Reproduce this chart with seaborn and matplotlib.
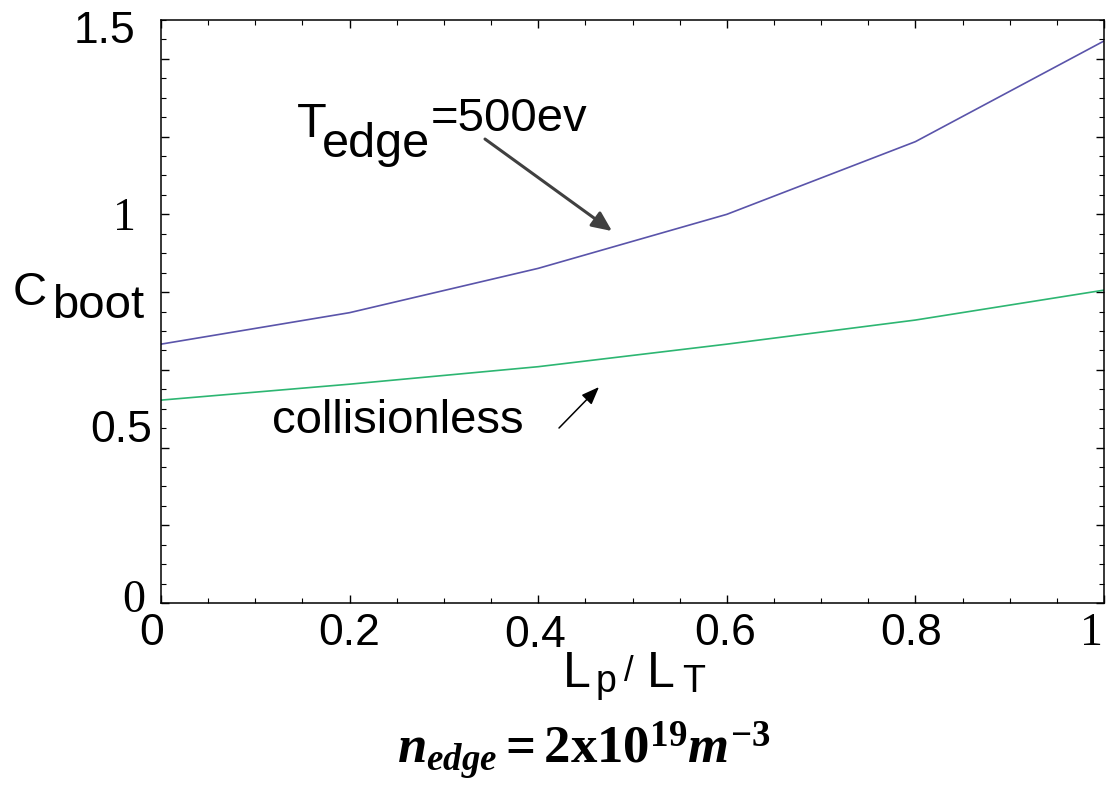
import numpy as np
import pandas as pd
import matplotlib
matplotlib.use("Agg")
import matplotlib.pyplot as plt
import seaborn as sns
from matplotlib.ticker import MultipleLocator

# ---------------- data ----------------
x_vals = [0.0, 0.2, 0.4, 0.6, 0.8, 1.0]
t500_vals = [0.666, 0.747, 0.861, 1.000, 1.187, 1.446]
collisionless_vals = [0.522, 0.563, 0.608, 0.666, 0.728, 0.805]
series_names = ["T_edge=500ev", "collisionless"]
xtick_vals = [0, 0.2, 0.4, 0.6, 0.8, 1]
xtick_labels = ["0", "0.2", "0.4", "0.6", "0.8", "1"]
ytick_vals = [0, 0.5, 1, 1.5]
ytick_labels = ["0", "0.5", "1", "1.5"]

# ---------------- style ----------------
colors = ["#5a54aa", "#2db672"]
SANS = ["Liberation Sans", "DejaVu Sans"]
SERIF = ["Liberation Serif", "DejaVu Serif"]
xtick_fonts = [SANS, SANS, SANS, SANS, SANS, SERIF]
ytick_fonts = [SERIF, SANS, SERIF, SANS]
xtick_offsets = [(-9, -42), (0, -42), (-3, -44), (-2, -42), (-4, -42), (-13, -42)]
ytick_offsets = [(-16, -9), (-9, -33), (-25, -16), (-26, -23)]

sns.set_theme(style="ticks")
plt.rcParams['font.family'] = SANS
plt.rcParams['text.color'] = 'black'
plt.rcParams['mathtext.fontset'] = 'custom'
plt.rcParams['mathtext.rm'] = 'Liberation Serif:bold'
plt.rcParams['mathtext.bf'] = 'Liberation Serif:bold'
plt.rcParams['mathtext.it'] = 'Liberation Serif:bold:italic'

W, H = 1112, 801
fig = plt.figure(figsize=(W / 100, H / 100), dpi=100)
fig.patch.set_facecolor("white")
ax = fig.add_axes([161 / W, 1 - 603 / H, (1104 - 161) / W, (603 - 20) / H])


def fpx(x, y):
    return (x / W, 1 - y / H)


df = pd.DataFrame({
    "x": x_vals + x_vals,
    "y": t500_vals + collisionless_vals,
    "series": [series_names[0]] * len(x_vals) + [series_names[1]] * len(x_vals),
})
sns.lineplot(data=df, x="x", y="y", hue="series", palette=colors,
             legend=False, ax=ax, linewidth=1.2, sort=False)

ax.set_xlim(0, 1)
ax.set_ylim(0, 1.5)
ax.set_xlabel("")
ax.set_ylabel("")
ax.xaxis.set_major_locator(MultipleLocator(0.2))
ax.xaxis.set_minor_locator(MultipleLocator(0.05))
ax.yaxis.set_major_locator(MultipleLocator(0.2))
ax.yaxis.set_minor_locator(MultipleLocator(0.05))
ax.tick_params(which="both", direction="in", top=True, right=True,
               bottom=True, left=True,
               labelbottom=False, labelleft=False, colors="black")
ax.tick_params(which="major", length=5.5, width=1.0)
ax.tick_params(which="minor", length=3.5, width=0.8)
for s in ax.spines.values():
    s.set_visible(True)
    s.set_linewidth(1.1)
    s.set_color("black")

# tick labels as text anchored to the data values
for v, lab, fam, off in zip(xtick_vals, xtick_labels, xtick_fonts, xtick_offsets):
    ax.annotate(lab, xy=(v, 0), xycoords=ax.get_xaxis_transform(),
                xytext=off, textcoords="offset pixels",
                ha="center", va="baseline", fontsize=32 if fam is SANS else 33,
                family=fam, color="black", annotation_clip=False)
for v, lab, fam, off in zip(ytick_vals, ytick_labels, ytick_fonts, ytick_offsets):
    ax.annotate(lab, xy=(0, v), xycoords=ax.get_yaxis_transform(),
                xytext=off, textcoords="offset pixels",
                ha="right", va="baseline", fontsize=32 if fam is SANS else 33,
                family=fam, color="black", annotation_clip=False)

# y axis label C_boot
fig.text(*fpx(13, 305), "C", fontsize=34, family=SANS, ha="left", va="baseline")
fig.text(*fpx(52, 318), "boot", fontsize=34, family=SANS, ha="left", va="baseline")

# x axis label L_p / L_T
fig.text(*fpx(563, 687), "L", fontsize=36, family=SANS, ha="left", va="baseline")
fig.text(*fpx(596, 692), "p", fontsize=27, family=SANS, ha="left", va="baseline")
fig.text(*fpx(624, 681), "/", fontsize=25, family=SANS, ha="left", va="baseline")
fig.text(*fpx(647, 687), "L", fontsize=36, family=SANS, ha="left", va="baseline")
fig.text(*fpx(682, 692), "T", fontsize=27, family=SANS, ha="left", va="baseline")

# annotation T_edge=500ev
fig.text(*fpx(297, 137), "T", fontsize=35, family=SANS, ha="left", va="baseline")
fig.text(*fpx(322, 157), "edge", fontsize=35, family=SANS, ha="left", va="baseline")
fig.text(*fpx(431, 131), "=500ev", fontsize=34, family=SANS, ha="left", va="baseline")
ax.annotate("", xy=((612 - 161) / 943, (603 - 231) / 388.7),
            xytext=((485 - 161) / 943, (603 - 139) / 388.7),
            xycoords="data", textcoords="data",
            arrowprops=dict(arrowstyle="-|>,head_length=1.0,head_width=0.45",
                            color="#404040", lw=2.2, shrinkA=0, shrinkB=0))

# annotation collisionless
fig.text(*fpx(272, 433), "collisionless", fontsize=34, family=SANS,
         ha="left", va="baseline")
ax.annotate("", xy=((599 - 161) / 943, (603 - 387) / 388.7),
            xytext=((559 - 161) / 943, (603 - 428) / 388.7),
            xycoords="data", textcoords="data",
            arrowprops=dict(arrowstyle="-|>,head_length=0.9,head_width=0.35",
                            color="black", lw=1.1, shrinkA=0, shrinkB=0))

# bottom caption
fig.text(*fpx(584, 763), r"$n_{edge}=\mathrm{2x10}^{19}m^{-3}$",
         fontsize=38, ha="center", va="baseline", color="black")

fig.savefig("out.png", dpi=100, facecolor="white")
